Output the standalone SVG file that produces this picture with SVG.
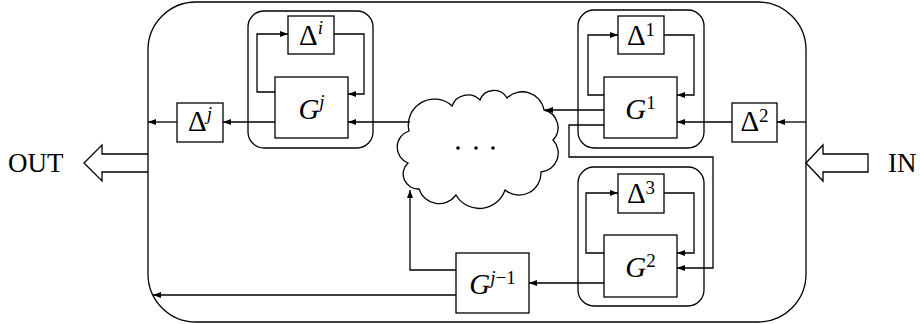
<svg xmlns="http://www.w3.org/2000/svg" width="920" height="324" viewBox="0 0 920 324">
<defs>
<marker id="ah" viewBox="0 0 8 6" refX="8" refY="3" markerWidth="8" markerHeight="6" markerUnits="userSpaceOnUse" orient="auto">
<path d="M0,0 L8,3 L0,6 z" fill="#000"/>
</marker>
<style>
.ln{fill:none;stroke:#000;stroke-width:1.3;}
.ar{fill:none;stroke:#000;stroke-width:1.3;marker-end:url(#ah);}
.bx{fill:#fff;stroke:#000;stroke-width:1.3;}
.grp{fill:none;stroke:#000;stroke-width:1.3;}
.m{font-family:"Liberation Serif",serif;font-size:29px;text-anchor:middle;}
.it{font-style:italic;}
.sup{font-size:19px;}
.lbl{font-family:"Liberation Serif",serif;font-size:27px;}
</style>
</defs>
<rect width="920" height="324" fill="#fff"/>

<g id="out-arrow">
<polyline points="148,154 102,154 102,145 84,163 102,181 102,172 148,172" fill="#fff" stroke="#000" stroke-width="1.3"/>
<text x="8" y="172" class="lbl">OUT</text>
</g>
<g id="in-arrow">
<polygon points="868,154 823,154 823,145 806,163 823,181 823,172 868,172" fill="#fff" stroke="#000" stroke-width="1.3"/>
<text x="888" y="172" class="lbl">IN</text>
</g>

<g id="system">
<rect x="148" y="2" width="658" height="320" rx="48" ry="48" class="grp"/>
</g>

<g id="block-j">
<rect x="248" y="11" width="125" height="137" rx="16" ry="16" class="grp"/>
</g>
<g id="block-1">
<rect x="578" y="10" width="126" height="138" rx="16" ry="16" class="grp"/>
</g>
<g id="block-2">
<rect x="578" y="167" width="126" height="139" rx="16" ry="16" class="grp"/>
</g>

<g id="cloud">
<path class="bx" d="M409,131 A26,26 0 0 1 452,106 A17,17 0 0 1 480,100 A15,15 0 0 1 507,98 A22,22 0 0 1 544,110 A18,18 0 0 1 553,140 A19,19 0 0 1 541,172 A22,22 0 0 1 505,190 A27,27 0 0 1 456,195 A21,21 0 0 1 419,189 A15,15 0 0 1 408,163 A17,17 0 0 1 409,131 Z"/>
<circle cx="458" cy="148" r="1.8"/>
<circle cx="476" cy="148" r="1.8"/>
<circle cx="493" cy="148" r="1.8"/>
</g>

<g id="connectors">
<polyline class="ar" points="275,92 257,92 257,34 288,34"/>
<polyline class="ar" points="334,34 364,34 364,94 348,94"/>
<polyline class="ar" points="410,122 348,122"/>
<polyline class="ar" points="275,122 223,122"/>
<polyline class="ar" points="177,122 148,122"/>
<polyline class="ar" points="604,95 588,95 588,35 618,35"/>
<polyline class="ar" points="664,35 694,35 694,95 677,95"/>
<polyline class="ar" points="806,122 777,122"/>
<polyline class="ar" points="732,122 677,122"/>
<polyline class="ar" points="604,110 545,110"/>
<polyline class="ar" points="604,125 569,125 569,157 713,157 713,268 677,268"/>
<polyline class="ar" points="604,253 586,253 586,193 618,193"/>
<polyline class="ar" points="664,193 694,193 694,253 677,253"/>
<polyline class="ar" points="604,283 529,283"/>
<polyline class="ar" points="456,270 410,270 410,190"/>
<polyline class="ar" points="456,295 153,295"/>
</g>

<g id="delta-i">
<rect x="288" y="16" width="46" height="38" class="bx"/>
<text x="311" y="45" class="m">Δ<tspan class="sup it" dy="-11">i</tspan></text>
</g>
<g id="G-j">
<rect x="275" y="77" width="73" height="61" class="bx"/>
<text x="311.5" y="119" class="m"><tspan class="it">G</tspan><tspan class="sup it" dy="-11">j</tspan></text>
</g>
<g id="delta-j">
<rect x="177" y="103" width="46" height="39" class="bx"/>
<text x="200" y="131" class="m">Δ<tspan class="sup it" dy="-11">j</tspan></text>
</g>
<g id="delta-1">
<rect x="618" y="16" width="46" height="38" class="bx"/>
<text x="641" y="45" class="m">Δ<tspan class="sup" dy="-9">1</tspan></text>
</g>
<g id="G-1">
<rect x="604" y="77" width="73" height="61" class="bx"/>
<text x="640.5" y="119" class="m"><tspan class="it">G</tspan><tspan class="sup" dy="-10">1</tspan></text>
</g>
<g id="delta-2">
<rect x="732" y="103" width="45" height="39" class="bx"/>
<text x="754.5" y="131" class="m">Δ<tspan class="sup" dy="-9">2</tspan></text>
</g>
<g id="delta-3">
<rect x="618" y="174" width="46" height="39" class="bx"/>
<text x="641" y="203" class="m">Δ<tspan class="sup" dy="-9">3</tspan></text>
</g>
<g id="G-2">
<rect x="604" y="235" width="73" height="62" class="bx"/>
<text x="640.5" y="277" class="m"><tspan class="it">G</tspan><tspan class="sup" dy="-10">2</tspan></text>
</g>
<g id="G-j-1">
<rect x="456" y="253" width="73" height="60" class="bx"/>
<text x="492.5" y="294" class="m"><tspan class="it">G</tspan><tspan class="sup" dy="-10"><tspan class="it">j</tspan>−1</tspan></text>
</g>
</svg>
